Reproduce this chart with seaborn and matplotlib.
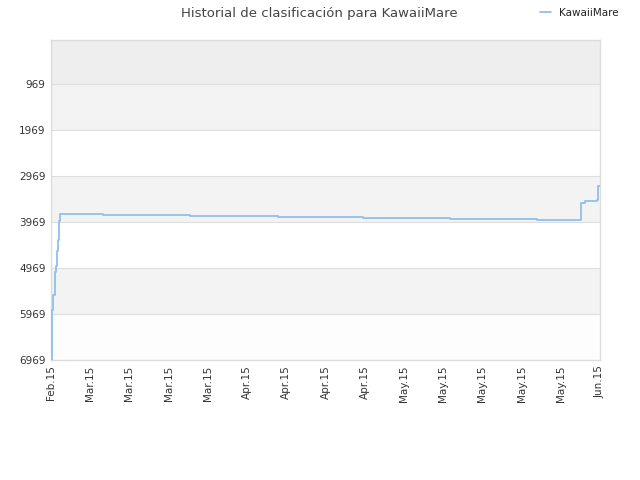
import matplotlib
matplotlib.use("Agg")
import matplotlib.pyplot as plt
import seaborn as sns
import pandas as pd

# ---- data ----
days = [0.0, 0.28, 0.5, 0.87, 1.09, 1.38, 1.6, 1.81, 2.03, 11.4, 30.4, 49.6,
        68.2, 87.2, 106.2, 115.8, 116.7, 119.3, 119.6, 120.0]
rank = [6969, 5880, 5550, 5050, 4920, 4590, 4370, 3950, 3804, 3826, 3847, 3869,
        3891, 3912, 3934, 3549, 3521, 3484, 3180, 3180]
series_name = "KawaiiMare"
tick_labels = ["Feb.15", "Mar.15", "Mar.15", "Mar.15", "Mar.15", "Apr.15", "Apr.15",
               "Apr.15", "Apr.15", "May.15", "May.15", "May.15", "May.15", "May.15", "Jun.15"]
y_ticks = [969, 1969, 2969, 3969, 4969, 5969, 6969]
title = "Historial de clasificación para KawaiiMare"

df = pd.DataFrame({"day": days, "rank": rank, "serie": series_name})

sns.set_style("white")
plt.rcParams['font.family'] = ['DejaVu Sans']

fig = plt.figure(figsize=(6.4, 4.8), dpi=100)
ax = fig.add_axes([51/640, 1-360/480, (600-51)/640, 320/480])

# bands
band_colors = ["#eeeeee", "#f3f3f3", "#ffffff", "#f3f3f3", "#ffffff", "#f3f3f3", "#fdfdfd"]
edges = [13] + y_ticks
for i, c in enumerate(band_colors):
    ax.axhspan(edges[i], edges[i+1], color=c, zorder=0, lw=0)
for t in y_ticks[:-1]:
    ax.axhline(t, color="#dedede", lw=0.8, zorder=1)

sns.lineplot(data=df, x="day", y="rank", ax=ax, color="#8fc0f0", lw=1.3,
             drawstyle="steps-post", label=series_name, legend=False, zorder=3)

ax.set_xlim(0, 120)
ax.set_ylim(6969, 13)
ax.set_yticks(y_ticks)
ax.set_yticklabels([str(t) for t in y_ticks])
xt = [120 * i / (len(tick_labels) - 1) for i in range(len(tick_labels))]
ax.set_xticks(xt)
ax.set_xticklabels(tick_labels, rotation=90)
ax.tick_params(axis="both", labelsize=7.5, colors="#333333", length=0, pad=4)
ax.set_xlabel("")
ax.set_ylabel("")
for s in ax.spines.values():
    s.set_color("#dddddd")
    s.set_linewidth(1.0)

fig.text(319/640, 1-13/480, title, ha="center", va="center", fontsize=9.5, color="#444444")
handles, labels = ax.get_legend_handles_labels()
leg = fig.legend(handles, labels, loc="center right", bbox_to_anchor=(628/640, 1-13/480),
                 frameon=False, fontsize=7.5, handlelength=1.0, handletextpad=0.8)
for t in leg.get_texts():
    t.set_color("#222222")

fig.savefig("out.png", dpi=100)
